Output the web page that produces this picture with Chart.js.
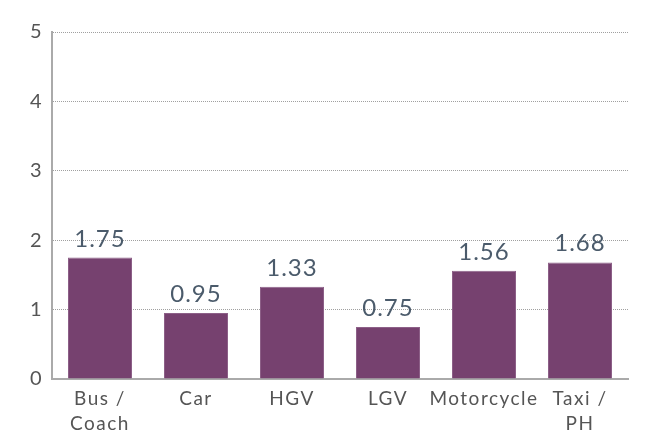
<!DOCTYPE html>
<html>
<head>
<meta charset="utf-8">
<script src="https://cdn.jsdelivr.net/npm/chart.js@4"></script>
<style>
html,body{margin:0;padding:0;background:#fff}
#wrap{width:650px;height:434px}
</style>
</head>
<body>
<div id="wrap"><canvas id="c" width="650" height="434"></canvas></div>
<script>
const categories = [["Bus /","Coach"],"Car","HGV","LGV","Motorcycle",["Taxi /","PH"]]
const values = [1.75,0.95,1.33,0.75,1.56,1.68]
const valueLabels = ["1.75","0.95","1.33","0.75","1.56","1.68"]
const yTicks = [0,1,2,3,4,5]

// wider letter spacing, like the original's font
const spacing = {
id:"spacing",
beforeDraw(chart){chart.ctx.letterSpacing = "1.5px"}
}

const barLabels = {
id:"barLabels",
afterDatasetsDraw(chart){
const ctx = chart.ctx
const meta = chart.getDatasetMeta(0)
ctx.save()
ctx.font = "24px Lato"
ctx.letterSpacing = "1px"
ctx.fillStyle = "#4b5b6b"
ctx.textAlign = "center"
ctx.textBaseline = "alphabetic"
meta.data.forEach((bar,i)=>{
ctx.fillText(valueLabels[i], bar.x, bar.y - 11)
})
ctx.restore()
}
}

new Chart(document.getElementById("c"),{
type:"bar",
data:{
labels:categories,
datasets:[{
data:values,
backgroundColor:"#76416f",
borderColor:"#8d6088",
borderWidth:1,
categoryPercentage:1,
barPercentage:0.667
}]
},
options:{
responsive:false,
animation:false,
layout:{padding:{left:0,right:22,top:32,bottom:0}},
plugins:{legend:{display:false},tooltip:{enabled:false}},
scales:{
x:{
afterFit(axis){axis.height = 55},
grid:{display:false},
border:{display:true,color:"#aaaaaa",width:2},
ticks:{color:"#555",font:{family:"Lato",size:19,lineHeight:1.3},padding:0,maxRotation:0,autoSkip:false}
},
y:{
min:0,max:5,
afterFit(axis){axis.width = 52},
afterBuildTicks(axis){axis.ticks = yTicks.map(v=>({value:v}))},
grid:{color:"#a0a0a0",lineWidth:1,drawTicks:false},
border:{display:true,color:"#aaaaaa",width:2,dash:[1,1]},
ticks:{color:"#555",font:{family:"Lato",size:20},padding:9}
}
}
},
plugins:[spacing,barLabels]
})
</script>
</body>
</html>
